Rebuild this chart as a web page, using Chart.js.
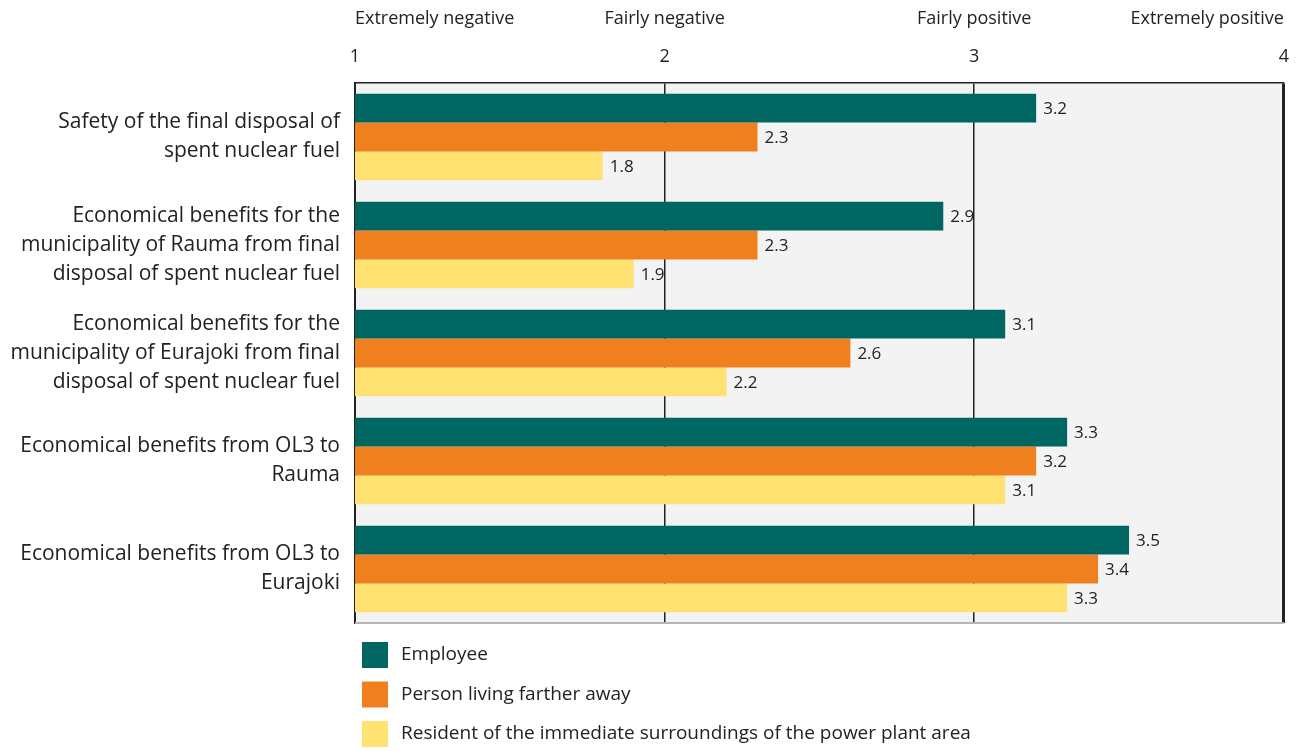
<!DOCTYPE html>
<html>
<head>
<meta charset="utf-8">
<script src="https://cdn.jsdelivr.net/npm/chart.js@4/dist/chart.umd.min.js"></script>
<style>
  html, body { margin: 0; padding: 0; background: #ffffff; }
  #wrap { width: 1304px; height: 751px; position: relative; }
</style>
</head>
<body>
<div id="wrap"><canvas id="c"></canvas></div>
<script>
const categories = [
  ["Safety of the final disposal of", "spent nuclear fuel"],
  ["Economical benefits for the", "municipality of Rauma from final", "disposal of spent nuclear fuel"],
  ["Economical benefits for the", "municipality of Eurajoki from final", "disposal of spent nuclear fuel"],
  ["Economical benefits from OL3 to", "Rauma"],
  ["Economical benefits from OL3 to", "Eurajoki"]
];
const seriesNames = ["Employee", "Person living farther away", "Resident of the immediate surroundings of the power plant area"];
const employee = [3.2, 2.9, 3.1, 3.3, 3.5];
const fartherAway = [2.3, 2.3, 2.6, 3.2, 3.4];
const resident = [1.8, 1.9, 2.2, 3.1, 3.3];
const tickValues = [1, 2, 3, 4];
const scaleLabels = ["Extremely negative", "Fairly negative", "Fairly positive", "Extremely positive"];

const colors = ["#006661", "#f0801e", "#ffe271"];
const FONT = "'Open Sans', sans-serif";
const TEXT = "#222222";

const bgPlugin = {
  id: 'bg',
  beforeDraw(chart) {
    const {ctx, chartArea: a} = chart;
    ctx.save();
    ctx.fillStyle = '#f3f3f3';
    ctx.fillRect(a.left, a.top, a.right - a.left, a.bottom - a.top);
    ctx.restore();
  },
  afterDraw(chart) {
    const {ctx, chartArea: a} = chart;
    ctx.save();
    ctx.strokeStyle = '#b5b5b5';
    ctx.lineWidth = 2;
    ctx.beginPath();
    ctx.moveTo(a.left, a.bottom);
    ctx.lineTo(a.right, a.bottom);
    ctx.stroke();
    // legend
    const ds = chart.data.datasets;
    ctx.font = "19px " + FONT;
    ctx.textBaseline = 'middle';
    ctx.textAlign = 'left';
    ds.forEach((d, i) => {
      const cy = 655 + i * 39.5;
      ctx.fillStyle = d.backgroundColor;
      ctx.fillRect(362, cy - 13, 26, 26);
      ctx.fillStyle = TEXT;
      ctx.fillText(d.label, 401, cy);
    });
    ctx.restore();
  }
};

const valuePlugin = {
  id: 'values',
  afterDatasetsDraw(chart) {
    const {ctx} = chart;
    ctx.save();
    ctx.font = "17px " + FONT;
    ctx.fillStyle = TEXT;
    ctx.textBaseline = 'middle';
    ctx.textAlign = 'left';
    chart.data.datasets.forEach((d, di) => {
      const meta = chart.getDatasetMeta(di);
      meta.data.forEach((el, i) => {
        ctx.fillText(d.data[i].toFixed(1), el.x + 7, el.y + 1);
      });
    });
    ctx.restore();
  }
};

new Chart(document.getElementById('c'), {
  type: 'bar',
  data: {
    labels: categories,
    datasets: [
      { label: seriesNames[0], data: employee, backgroundColor: colors[0] },
      { label: seriesNames[1], data: fartherAway, backgroundColor: colors[1] },
      { label: seriesNames[2], data: resident, backgroundColor: colors[2] }
    ]
  },
  options: {
    indexAxis: 'y',
    responsive: true,
    maintainAspectRatio: false,
    animation: false,
    layout: { padding: { left: 0, right: 20, top: 0, bottom: 128 } },
    datasets: { bar: { categoryPercentage: 0.8, barPercentage: 1.0, borderWidth: 0 } },
    plugins: { legend: { display: false }, tooltip: { enabled: false } },
    scales: {
      x: {
        type: 'linear', position: 'top', min: 1, max: 4, weight: 0,
        afterBuildTicks: s => { s.ticks = tickValues.map(v => ({value: v})); },
        ticks: { font: { family: FONT, size: 18 }, color: TEXT, padding: 15 },
        grid: {
          drawTicks: false,
          color: c => (c.tick && (c.tick.value === 1)) ? 'rgba(0,0,0,0)' : '#222222',
          lineWidth: c => (c.tick && c.tick.value === 4) ? 3 : 1.5
        },
        border: { display: true, color: '#222222', width: 1.5 },
        afterFit: s => { s.height = 40; }
      },
      x2: {
        type: 'linear', position: 'top', min: 1, max: 4, weight: 1,
        afterBuildTicks: s => { s.ticks = tickValues.map(v => ({value: v})); },
        ticks: {
          font: { family: FONT, size: 18 }, color: TEXT, padding: 13, align: 'inner',
          callback: v => scaleLabels[tickValues.indexOf(v)]
        },
        grid: { display: false, drawTicks: false },
        border: { display: false },
        afterFit: s => { s.height = 43; }
      },
      y: {
        type: 'category',
        grid: { display: false, drawTicks: false },
        border: { display: true, color: '#222222', width: 2 },
        ticks: { font: { family: FONT, size: 21, lineHeight: '29px' }, color: TEXT, padding: 15 },
        afterFit: s => { s.width = 355; }
      }
    }
  },
  plugins: [bgPlugin, valuePlugin]
});
</script>
</body>
</html>
